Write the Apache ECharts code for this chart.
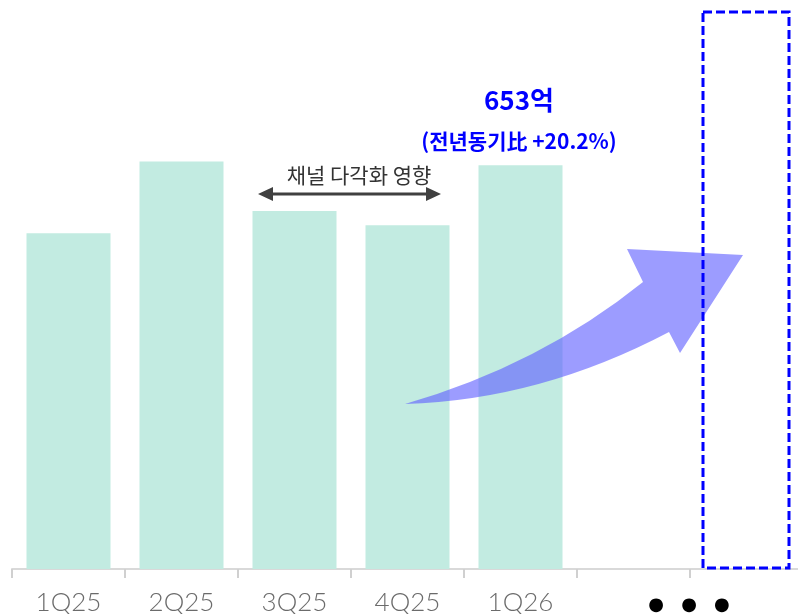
<!DOCTYPE html>
<html>
<head>
<meta charset="utf-8">
<script src="https://cdn.jsdelivr.net/npm/echarts@6/dist/echarts.min.js"></script>
<style>
  html, body { margin: 0; padding: 0; background: #fff; }
  #chart { width: 798px; height: 614px; }
</style>
</head>
<body>
<div id="chart"></div>
<script>
// 분기별 매출 (억원)
var quarters = ["1Q25", "2Q25", "3Q25", "4Q25", "1Q26", "", ""];
var sales = [543, 659, 579, 556, 653, null, null];
var headline = "653억";
var yoyText = "(전년동기比 +20.2%)";
var noteText = "채널 다각화 영향";

var chart = echarts.init(document.getElementById("chart"));

var arrowPath = "M405,404 Q540,365 643,282 L627,249 L743,255 L680,353 L669,332 Q540,400 405,404 Z";

var option = {
  animation: false,
  grid: { left: 12, width: 791, top: 0, bottom: 45, outerBoundsMode: "none" },
  xAxis: {
    type: "category",
    data: quarters,
    axisLine: { lineStyle: { color: "#d9d9d9", width: 2 } },
    axisTick: { show: true, interval: 0, length: 9, lineStyle: { color: "#d0d0d0", width: 2 } },
    axisLabel: {
      interval: 0,
      color: "#6b6b6b",
      fontSize: 26,
      fontWeight: 300,
      fontFamily: "Lato",
      margin: 21
    }
  },
  yAxis: { type: "value", min: 0, max: 920, show: false, splitLine: { show: false } },
  series: [
    {
      type: "bar",
      data: sales,
      barWidth: 84,
      itemStyle: { color: "#c2ebe1" },
      z: 2
    },
    {
      // 성장 화살표
      type: "custom",
      data: [[0, 0]],
      z: 10,
      silent: true,
      renderItem: function () {
        return {
          type: "path",
          shape: { pathData: arrowPath },
          style: { fill: "rgba(95,95,255,0.62)" }
        };
      }
    }
  ],
  graphic: [
    {
      type: "rect",
      z: 20,
      shape: { x: 703, y: 12, width: 86, height: 556 },
      style: { fill: "none", stroke: "#0000ff", lineWidth: 3, lineDash: [9, 4] }
    },
    {
      type: "line",
      z: 20,
      shape: { x1: 268, y1: 194, x2: 431, y2: 194 },
      style: { stroke: "#404040", lineWidth: 3 }
    },
    {
      type: "polygon",
      z: 20,
      shape: { points: [[258, 194], [273, 187], [273, 201]] },
      style: { fill: "#404040" }
    },
    {
      type: "polygon",
      z: 20,
      shape: { points: [[441, 194], [426, 187], [426, 201]] },
      style: { fill: "#404040" }
    },
    {
      type: "text",
      z: 20,
      style: {
        x: 359, y: 175, text: noteText, align: "center", verticalAlign: "middle",
        fill: "#333", fontSize: 21, fontFamily: "Noto Sans CJK KR"
      }
    },
    {
      type: "text",
      z: 20,
      style: {
        x: 519, y: 100, text: headline, align: "center", verticalAlign: "middle",
        fill: "#0000ff", fontSize: 26, fontWeight: "bold", fontFamily: "Noto Sans CJK KR"
      }
    },
    {
      type: "text",
      z: 20,
      style: {
        x: 519, y: 141, text: yoyText, align: "center", verticalAlign: "middle",
        fill: "#0000ff", fontSize: 21, fontWeight: "bold", fontFamily: "Noto Sans CJK KR"
      }
    },
    {
      type: "text",
      z: 20,
      style: {
        x: 689, y: 605, text: "●   ●   ●", align: "center", verticalAlign: "middle",
        fill: "#000", fontSize: 18, fontFamily: "DejaVu Sans"
      }
    }
  ]
};

chart.setOption(option);
</script>
</body>
</html>
